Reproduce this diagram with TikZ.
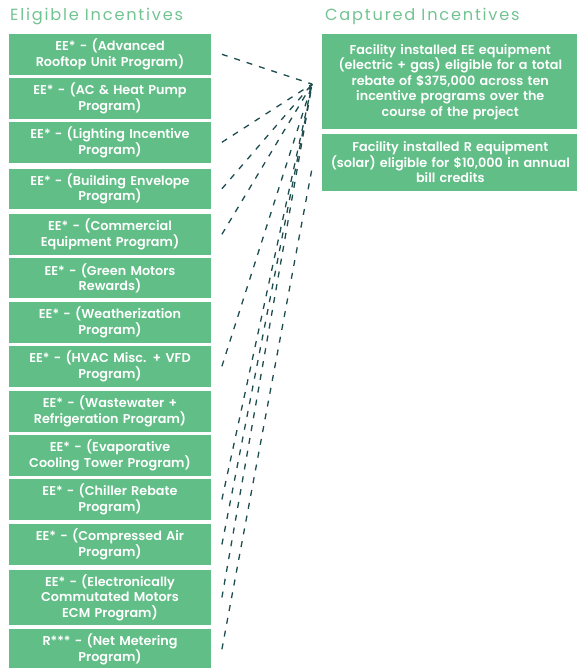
\documentclass[tikz,border=0pt]{standalone}
\usepackage{fontspec}
\setmainfont{Poppins}
\newfontfamily\boxfont{Poppins}[UprightFont={* SemiBold}]
\newfontfamily\headfont{Poppins}[LetterSpace=11]
\definecolor{boxgreen}{HTML}{60BE86}
\definecolor{headgreen}{HTML}{72C392}
\definecolor{linkteal}{HTML}{1E4D50}
\begin{document}
\begin{tikzpicture}[x=1pt,y=-1pt,
  lbox/.style={fill=boxgreen, draw=none, inner sep=0pt, minimum width=202pt,
    text width=200pt, align=center, text=white,
    font=\boxfont\fontsize{12.8}{15.5}\selectfont},
  rbox/.style={fill=boxgreen, draw=none, inner sep=0pt, minimum width=256pt,
    text width=254pt, align=center, text=white,
    font=\boxfont\fontsize{12.8}{15.5}\selectfont},
  heading/.style={anchor=base west, inner sep=0pt, text=headgreen,
    font=\headfont\fontsize{16.2}{18}\selectfont},
  link/.style={draw=linkteal, line width=1.3pt, dash pattern=on 6pt off 7pt}]
\useasboundingbox (0,0) rectangle (576,668);
% headings
\node[heading] (h1) at (10,20.7) {Eligible Incentives};
\node[heading] (h2) at (325,20.7) {Captured Incentives};
% left boxes
\node[lbox, minimum height=40.7pt] (b1) at (110,54.3) {EE* - (Advanced\\Rooftop Unit Program)};
\node[lbox, minimum height=41pt] (b2) at (110,98.5) {EE* - (AC \& Heat Pump\\Program)};
\node[lbox, minimum height=40.7pt] (b3) at (110,142.3) {EE* - (Lighting Incentive\\Program)};
\node[lbox, minimum height=39.7pt] (b4) at (110,188.8) {EE* - (Building Envelope\\Program)};
\node[lbox, minimum height=40.7pt] (b5) at (110,234.3) {EE* - (Commercial\\Equipment Program)};
\node[lbox, minimum height=40.3pt] (b6) at (110,278.2) {EE* - (Green Motors\\Rewards)};
\node[lbox, minimum height=40.7pt] (b7) at (110,322.3) {EE* - (Weatherization\\Program)};
\node[lbox, minimum height=40.7pt] (b8) at (110,366.3) {EE* - (HVAC Misc. + VFD\\Program)};
\node[lbox, minimum height=41pt] (b9) at (110,411.2) {EE* - (Wastewater +\\Refrigeration Program)};
\node[lbox, minimum height=40.7pt] (b10) at (110,455.3) {EE* - (Evaporative\\Cooling Tower Program)};
\node[lbox, minimum height=41pt] (b11) at (110,499.5) {EE* - (Chiller Rebate\\Program)};
\node[lbox, minimum height=41pt] (b12) at (110,544.5) {EE* - (Compressed Air\\Program)};
\node[lbox, minimum height=55pt] (b13) at (110,597.5) {EE* - (Electronically\\Commutated Motors\\ECM Program)};
\node[lbox, minimum height=40.7pt] (b14) at (110,649.3) {R*** - (Net Metering\\Program)};
% right boxes
\node[rbox, minimum height=95.3pt] (c1) at (450.3,81.7) {Facility installed EE equipment\\(electric + gas) eligible for a total\\rebate of \$375,000 across ten\\incentive programs over the\\course of the project};
\node[rbox, minimum height=56.7pt] (c2) at (450.3,162.3) {Facility installed R equipment\\(solar) eligible for \$10,000 in annual\\bill credits};
% convergence points
\coordinate (p) at ([xshift=-10pt,yshift=-2.4pt]c1.west);
\coordinate (q) at ([xshift=-10pt,yshift=-5.7pt]c2.west);
% links
\foreach \b in {b1,b3,b4,b5,b8,b11,b12,b13}
  \draw[link] ([xshift=10.7pt]\b.east) -- (p);
\draw[link] ([xshift=10.7pt]b14.east) -- (q);
\end{tikzpicture}
\end{document}
